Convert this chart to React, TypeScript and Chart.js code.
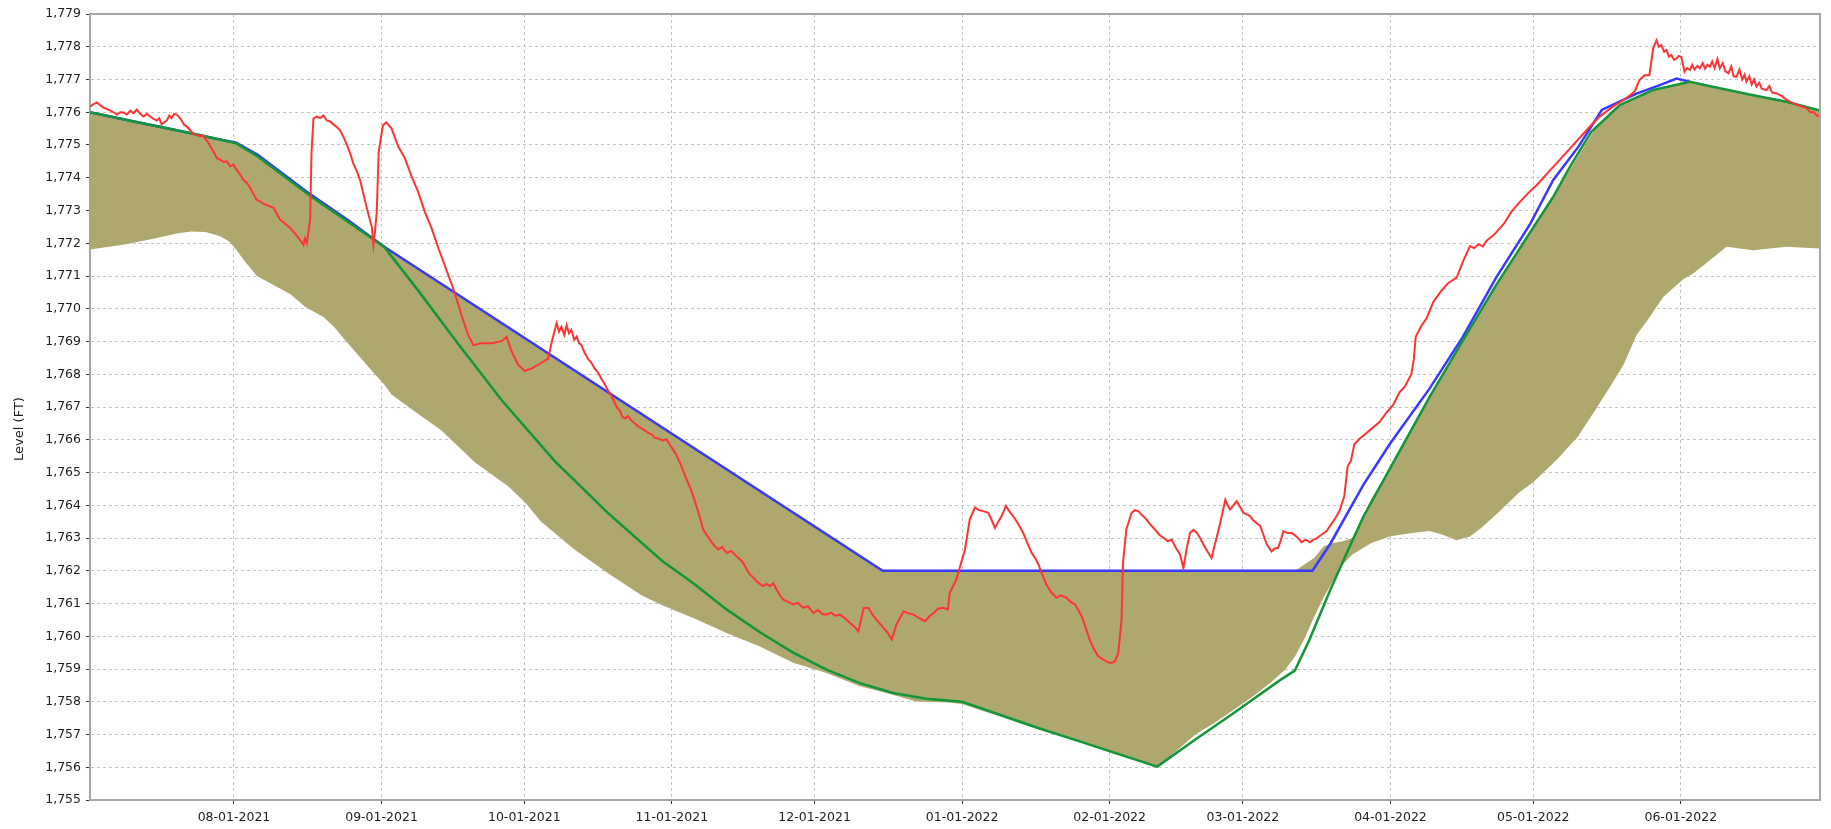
import React, { useEffect, useRef } from "react";
import { Chart, registerables } from "chart.js";

Chart.register(...registerables);

// x values are days counted from 2021-07-01
const xMin = 0.75;
const xMax = 364.25;
const monthTickDays = [31, 62, 92, 123, 153, 184, 215, 243, 274, 304, 335];
const monthTickLabels = [
  "08-01-2021", "09-01-2021", "10-01-2021", "11-01-2021", "12-01-2021",
  "01-01-2022", "02-01-2022", "03-01-2022", "04-01-2022", "05-01-2022", "06-01-2022",
];
const yTickValues = [
  1755, 1756, 1757, 1758, 1759, 1760, 1761, 1762, 1763, 1764, 1765, 1766,
  1767, 1768, 1769, 1770, 1771, 1772, 1773, 1774, 1775, 1776, 1777, 1778, 1779,
];
const yAxisTitle = "Level (FT)";

// [day, band bottom, band top]
const bandSeries: [number, number, number][] = [
  [0.75, 1771.81, 1776.0], [4, 1771.88, 1775.9], [8, 1771.96, 1775.78], [12, 1772.08, 1775.66],
  [15, 1772.17, 1775.57], [19, 1772.3, 1775.45], [22, 1772.36, 1775.36], [25, 1772.34, 1775.28],
  [28, 1772.22, 1775.17], [30, 1772.05, 1775.12], [31.5, 1771.8, 1775.06], [33, 1771.5, 1774.95],
  [35.8, 1771.0, 1774.68], [39, 1770.75, 1774.33], [42.8, 1770.45, 1773.92], [46, 1770.05, 1773.55],
  [49.8, 1769.75, 1773.2], [52, 1769.45, 1772.98], [54, 1769.1, 1772.78], [57, 1768.6, 1772.45],
  [60, 1768.1, 1772.15], [62.5, 1767.7, 1771.9], [64.1, 1767.38, 1771.75], [67.6, 1767.01, 1771.42],
  [74.6, 1766.28, 1770.76], [81.6, 1765.31, 1770.1], [88.6, 1764.58, 1769.43], [92.1, 1764.1, 1769.1],
  [95.6, 1763.49, 1768.77], [102.6, 1762.64, 1768.11], [109.6, 1761.92, 1767.45], [116.6, 1761.25, 1766.79],
  [121, 1760.95, 1766.37], [127.5, 1760.56, 1765.76], [134.5, 1760.1, 1765.1], [141.5, 1759.69, 1764.44],
  [148.5, 1759.19, 1763.78], [155.5, 1758.88, 1763.12], [162.5, 1758.47, 1762.45], [167.3, 1758.3, 1762.0],
  [174.4, 1758.01, 1762.0], [181, 1757.98, 1762.0], [184, 1757.93, 1762.0], [192, 1757.55, 1762.0],
  [200, 1757.15, 1762.0], [208, 1756.8, 1762.0], [215, 1756.45, 1762.0], [220, 1756.22, 1762.0],
  [225, 1755.98, 1762.0], [229, 1756.5, 1762.0], [233, 1757.0, 1762.0], [237, 1757.35, 1762.0],
  [241, 1757.75, 1762.0], [245, 1758.15, 1762.0], [249, 1758.6, 1762.0], [252, 1759.0, 1762.0],
  [254, 1759.4, 1762.0], [256, 1759.95, 1762.2], [258, 1760.6, 1762.4], [260, 1761.2, 1762.75],
  [262, 1761.7, 1762.85], [264, 1762.2, 1762.9], [266, 1762.5, 1763.0], [270, 1762.85, 1764.2],
  [274, 1763.05, 1765.15], [279.4, 1763.17, 1766.6], [282.2, 1763.21, 1767.3], [285, 1763.1, 1768.0],
  [287.8, 1762.93, 1768.7], [290.6, 1763.04, 1769.37], [293, 1763.3, 1769.95], [296.2, 1763.72, 1770.72],
  [301.1, 1764.4, 1771.83], [304, 1764.7, 1772.5], [309, 1765.4, 1773.6], [313.4, 1766.1, 1774.65],
  [317, 1766.9, 1775.5], [320.7, 1767.75, 1776.05], [323, 1768.3, 1776.28], [325.7, 1769.2, 1776.47],
  [328, 1769.65, 1776.62], [331.3, 1770.36, 1776.77], [335.5, 1770.9, 1776.9], [337.6, 1771.08, 1776.92],
  [340.4, 1771.4, 1776.83], [344.6, 1771.89, 1776.69], [350.2, 1771.79, 1776.52], [357.2, 1771.89, 1776.32],
  [364.25, 1771.84, 1776.05],
];

// [day, level]
const blueSeries: [number, number][] = [
  [0.75, 1776.0], [10, 1775.72], [20, 1775.42], [28, 1775.17], [31.5, 1775.07], [36, 1774.7],
  [47, 1773.5], [55, 1772.7], [62.5, 1771.9], [167.3, 1762.0], [257.6, 1762.0], [261.3, 1762.81],
  [268.3, 1764.62], [274, 1765.9], [282.2, 1767.56], [289.2, 1769.14], [296.2, 1770.95],
  [303.2, 1772.55], [308.2, 1773.93], [313.5, 1774.95], [318.4, 1776.07], [325.7, 1776.57],
  [330.6, 1776.83], [334.1, 1777.03], [336.9, 1776.93],
];

const greenSeries: [number, number][] = [
  [0.75, 1776.0], [10, 1775.72], [20, 1775.42], [28, 1775.17], [31.5, 1775.05], [36, 1774.65],
  [47, 1773.45], [55, 1772.65], [62.5, 1771.9], [70, 1770.5], [78, 1768.95], [87.3, 1767.2],
  [98.4, 1765.35], [109.6, 1763.76], [121, 1762.3], [127.5, 1761.62], [134.5, 1760.82],
  [141.5, 1760.12], [148.5, 1759.5], [155.5, 1758.98], [162.5, 1758.57], [169.5, 1758.27],
  [176.5, 1758.09], [184, 1758.0], [200, 1757.2], [210, 1756.73], [225, 1756.02], [233, 1756.85],
  [241, 1757.65], [250.8, 1758.66], [253.9, 1758.95], [257, 1759.9], [261.3, 1761.4],
  [265, 1762.6], [268.3, 1763.65], [274, 1765.15], [282.2, 1767.3], [289.2, 1769.03],
  [296.2, 1770.72], [303.2, 1772.3], [308.2, 1773.42], [311.7, 1774.33], [316.2, 1775.4],
  [322.2, 1776.22], [329.2, 1776.68], [336.9, 1776.93], [343.2, 1776.73], [350.2, 1776.52],
  [357.2, 1776.32], [364.25, 1776.05],
];

const redSeries: [number, number][] = [
  [0.75, 1776.17], [1.5, 1776.25], [2.2, 1776.3], [3.0, 1776.2], [3.6, 1776.14], [4.3, 1776.1],
  [5.0, 1776.05], [5.7, 1776.0], [6.4, 1775.93], [7.1, 1776.0], [7.8, 1775.99], [8.5, 1775.93],
  [9.2, 1776.05], [9.9, 1775.97], [10.6, 1776.08], [11.3, 1775.95], [12.0, 1775.87], [12.7, 1775.95],
  [13.4, 1775.87], [14.1, 1775.8], [14.8, 1775.75], [15.3, 1775.82], [15.8, 1775.63], [16.4, 1775.7],
  [16.9, 1775.75], [17.4, 1775.9], [17.9, 1775.82], [18.4, 1775.95], [18.96, 1775.93], [19.5, 1775.85],
  [20.0, 1775.75], [20.5, 1775.62], [21.1, 1775.57], [21.8, 1775.45], [22.5, 1775.33], [23.2, 1775.3],
  [23.9, 1775.26], [24.4, 1775.3], [24.9, 1775.2], [25.5, 1775.1], [26.0, 1774.96], [26.7, 1774.8],
  [27.4, 1774.6], [28.1, 1774.55], [28.8, 1774.48], [29.5, 1774.5], [30.2, 1774.35], [30.9, 1774.4],
  [31.6, 1774.23], [32.3, 1774.1], [33.0, 1773.93], [33.7, 1773.85], [34.4, 1773.69], [35.1, 1773.5],
  [35.8, 1773.32], [36.5, 1773.28], [37.2, 1773.2], [38.2, 1773.15], [39.3, 1773.08], [40.0, 1772.9],
  [40.7, 1772.72], [41.7, 1772.6], [42.8, 1772.47], [43.5, 1772.35], [44.2, 1772.23], [44.9, 1772.1],
  [45.6, 1771.95], [45.9, 1772.15], [46.3, 1772.0], [46.7, 1772.4], [47.0, 1772.72], [47.3, 1774.78],
  [47.7, 1775.81], [48.4, 1775.87], [49.1, 1775.82], [49.8, 1775.9], [50.5, 1775.75], [51.2, 1775.72],
  [51.9, 1775.63], [52.6, 1775.55], [53.3, 1775.45], [54.0, 1775.25], [54.7, 1775.02], [55.4, 1774.75],
  [56.1, 1774.42], [56.8, 1774.2], [57.5, 1773.93], [58.2, 1773.5], [58.9, 1773.08], [59.5, 1772.75],
  [60.0, 1772.47], [60.3, 1771.95], [60.6, 1772.3], [61.0, 1772.96], [61.4, 1774.78], [62.3, 1775.6],
  [63.0, 1775.69], [64.1, 1775.51], [65.5, 1774.96], [66.9, 1774.6], [68.3, 1774.05], [69.7, 1773.57],
  [71.1, 1772.96], [72.5, 1772.47], [73.9, 1771.87], [75.3, 1771.32], [76.7, 1770.77], [77.8, 1770.29],
  [78.8, 1769.8], [80.2, 1769.2], [81.3, 1768.89], [83.0, 1768.95], [85.1, 1768.95], [87.2, 1769.01],
  [88.3, 1769.14], [89.3, 1768.71], [90.7, 1768.29], [92.1, 1768.1], [93.5, 1768.17], [94.9, 1768.29],
  [97.0, 1768.47], [97.8, 1769.01], [98.8, 1769.56], [99.3, 1769.3], [99.8, 1769.45], [100.4, 1769.2],
  [100.9, 1769.5], [101.4, 1769.25], [101.9, 1769.35], [102.5, 1769.05], [103.0, 1769.15],
  [103.5, 1768.95], [104.0, 1768.89], [104.7, 1768.65], [105.4, 1768.47], [106.1, 1768.35],
  [106.8, 1768.17], [107.5, 1768.05], [108.2, 1767.86], [108.9, 1767.7], [109.6, 1767.5],
  [110.3, 1767.35], [111.0, 1767.13], [111.6, 1766.95], [112.1, 1766.89], [112.6, 1766.7],
  [113.2, 1766.65], [113.8, 1766.72], [114.5, 1766.59], [115.2, 1766.5], [115.9, 1766.41],
  [116.6, 1766.35], [117.4, 1766.28], [118.1, 1766.2], [118.8, 1766.16], [119.5, 1766.05],
  [120.2, 1766.04], [121.0, 1765.98], [121.9, 1766.01], [122.8, 1765.8], [123.7, 1765.6],
  [124.7, 1765.3], [125.4, 1765.05], [126.1, 1764.79], [126.8, 1764.55], [127.5, 1764.28],
  [128.6, 1763.77], [129.6, 1763.26], [130.3, 1763.1], [131.0, 1762.95], [132.0, 1762.75],
  [132.8, 1762.65], [133.6, 1762.72], [134.5, 1762.55], [135.5, 1762.6], [136.6, 1762.44],
  [137.3, 1762.35], [138.0, 1762.24], [138.7, 1762.05], [139.4, 1761.88], [140.1, 1761.8],
  [140.8, 1761.68], [141.5, 1761.6], [142.2, 1761.53], [142.9, 1761.6], [143.6, 1761.53],
  [144.3, 1761.62], [145.0, 1761.43], [145.7, 1761.25], [146.4, 1761.12], [147.4, 1761.05],
  [148.5, 1760.97], [149.5, 1761.02], [150.6, 1760.87], [151.6, 1760.92], [152.7, 1760.71],
  [153.7, 1760.8], [154.6, 1760.68], [155.5, 1760.66], [156.5, 1760.72], [157.4, 1760.62],
  [158.3, 1760.66], [159.4, 1760.55], [160.4, 1760.41], [161.3, 1760.3], [162.2, 1760.15],
  [163.3, 1760.86], [164.3, 1760.87], [165.2, 1760.65], [166.0, 1760.51], [167.5, 1760.25],
  [168.4, 1760.1], [169.2, 1759.9], [170.2, 1760.36], [171.7, 1760.76], [172.7, 1760.7],
  [173.8, 1760.66], [175.0, 1760.55], [176.2, 1760.46], [177.1, 1760.6], [178.0, 1760.71],
  [179.0, 1760.85], [180.1, 1760.87], [181.0, 1760.82], [181.4, 1761.33], [182.8, 1761.74],
  [183.7, 1762.2], [184.6, 1762.65], [185.6, 1763.57], [186.7, 1763.93], [187.5, 1763.85],
  [188.4, 1763.82], [189.5, 1763.77], [190.2, 1763.55], [190.9, 1763.31], [191.6, 1763.5],
  [192.3, 1763.67], [193.2, 1763.98], [194.0, 1763.8], [194.7, 1763.67], [195.7, 1763.45],
  [196.8, 1763.16], [197.7, 1762.85], [198.6, 1762.55], [199.3, 1762.4], [200.0, 1762.2],
  [200.8, 1761.9], [201.7, 1761.58], [202.7, 1761.35], [203.8, 1761.18], [204.8, 1761.25],
  [205.9, 1761.18], [206.8, 1761.05], [207.7, 1760.97], [208.4, 1760.8], [209.1, 1760.61],
  [210.0, 1760.25], [210.8, 1759.9], [211.7, 1759.6], [212.6, 1759.39], [213.5, 1759.3],
  [214.3, 1759.23], [215.2, 1759.18], [216.1, 1759.23], [216.8, 1759.49], [217.5, 1760.5],
  [217.8, 1762.24], [218.5, 1763.26], [219.6, 1763.77], [220.3, 1763.85], [221.0, 1763.82],
  [221.8, 1763.7], [222.7, 1763.57], [223.6, 1763.4], [224.5, 1763.26], [225.4, 1763.1],
  [226.3, 1763.01], [227.2, 1762.9], [228.0, 1762.95], [228.9, 1762.7], [229.8, 1762.49],
  [230.5, 1762.08], [231.2, 1762.7], [231.9, 1763.16], [232.6, 1763.25], [233.3, 1763.16],
  [234.0, 1763.0], [234.7, 1762.8], [235.5, 1762.6], [236.4, 1762.39], [237.1, 1762.8],
  [237.9, 1763.26], [238.6, 1763.7], [239.3, 1764.17], [239.8, 1764.0], [240.3, 1763.87],
  [241.0, 1764.0], [241.7, 1764.12], [242.4, 1763.95], [243.1, 1763.77], [243.8, 1763.72],
  [244.5, 1763.67], [245.1, 1763.55], [245.9, 1763.45], [246.6, 1763.38], [247.3, 1763.1],
  [248.0, 1762.81], [249.0, 1762.59], [249.7, 1762.68], [250.4, 1762.7], [251.0, 1762.95],
  [251.5, 1763.21], [252.4, 1763.15], [253.3, 1763.15], [254.3, 1763.04], [255.3, 1762.87],
  [256.2, 1762.95], [257.1, 1762.87], [257.8, 1762.95], [258.4, 1762.98], [259.5, 1763.1],
  [260.6, 1763.21], [261.2, 1763.35], [261.9, 1763.49], [262.6, 1763.65], [263.3, 1763.83],
  [264.3, 1764.28], [265.0, 1765.19], [265.7, 1765.36], [266.4, 1765.86], [267.5, 1766.03],
  [268.9, 1766.2], [270.3, 1766.37], [271.7, 1766.54], [273.1, 1766.82], [274.5, 1767.05],
  [275.9, 1767.45], [277.0, 1767.62], [278.4, 1768.01], [278.9, 1768.46], [279.3, 1769.14],
  [280.5, 1769.48], [281.6, 1769.71], [283.0, 1770.21], [284.7, 1770.55], [286.1, 1770.78],
  [287.9, 1770.95], [289.3, 1771.46], [290.7, 1771.91], [291.6, 1771.85], [292.5, 1771.97],
  [293.4, 1771.9], [294.2, 1772.08], [295.7, 1772.25], [297.8, 1772.59], [299.5, 1772.98],
  [301.3, 1773.28], [303.4, 1773.6], [304.7, 1773.77], [308.2, 1774.33], [311.7, 1774.89],
  [315.2, 1775.45], [316.2, 1775.61], [317.9, 1775.86], [320.7, 1776.17], [323.5, 1776.42],
  [325.3, 1776.63], [326.3, 1776.98], [327.4, 1777.13], [328.4, 1777.13], [329.2, 1777.95],
  [329.9, 1778.2], [330.4, 1778.0], [330.9, 1778.05], [331.5, 1777.85], [332.0, 1777.9],
  [332.5, 1777.7], [333.0, 1777.75], [333.6, 1777.6], [334.1, 1777.64], [334.6, 1777.72],
  [335.1, 1777.69], [335.8, 1777.24], [336.3, 1777.35], [336.9, 1777.29], [337.4, 1777.45],
  [337.9, 1777.3], [338.5, 1777.42], [339.0, 1777.34], [339.6, 1777.5], [340.1, 1777.33],
  [340.6, 1777.45], [341.1, 1777.39], [341.6, 1777.55], [342.1, 1777.35], [342.7, 1777.62],
  [343.2, 1777.34], [343.8, 1777.5], [344.4, 1777.25], [345.0, 1777.19], [345.6, 1777.4],
  [346.1, 1777.1], [346.7, 1777.08], [347.3, 1777.3], [347.9, 1777.0], [348.4, 1777.15],
  [348.8, 1776.93], [349.4, 1777.1], [349.9, 1776.85], [350.4, 1777.0], [350.9, 1776.78],
  [351.5, 1776.9], [352.0, 1776.72], [353.0, 1776.68], [353.6, 1776.8], [354.2, 1776.6],
  [355.2, 1776.57], [356.2, 1776.5], [357.3, 1776.37], [358.3, 1776.3], [359.4, 1776.22],
  [360.4, 1776.18], [361.5, 1776.12], [362.2, 1776.0], [362.9, 1776.01], [363.6, 1775.9],
  [364.25, 1775.88],
];

const FONT = '"DejaVu Sans", Verdana, sans-serif';
const TEXT = "#1e1e1e";

export default function App() {
  const canvasRef = useRef<HTMLCanvasElement | null>(null);

  useEffect(() => {
    const canvas = canvasRef.current;
    if (!canvas) return;

    const framePlugin = {
      id: "framePlugin",
      afterDraw(chart: any) {
        const { ctx, chartArea } = chart;
        ctx.save();
        ctx.strokeStyle = "#a6a6a6";
        ctx.lineWidth = 2;
        ctx.beginPath();
        ctx.moveTo(chartArea.left, chartArea.top);
        ctx.lineTo(chartArea.right, chartArea.top);
        ctx.lineTo(chartArea.right, chartArea.bottom);
        ctx.stroke();
        ctx.fillStyle = TEXT;
        ctx.font = `13px ${FONT}`;
        ctx.textAlign = "center";
        ctx.textBaseline = "middle";
        ctx.translate(20, 429);
        ctx.rotate(-Math.PI / 2);
        ctx.fillText(yAxisTitle, 0, 0);
        ctx.restore();
      },
    };

    const toPts = (arr: [number, number][]) => arr.map(([x, y]) => ({ x, y }));

    const chart = new Chart(canvas, {
      type: "line",
      data: {
        datasets: [
          {
            label: "band bottom",
            data: bandSeries.map(([x, lo]) => ({ x, y: lo })),
            borderWidth: 0,
            borderColor: "rgba(0,0,0,0)",
            pointRadius: 0,
            fill: false,
            order: 4,
          },
          {
            label: "band top",
            data: bandSeries.map(([x, , hi]) => ({ x, y: hi })),
            borderWidth: 0,
            borderColor: "rgba(0,0,0,0)",
            backgroundColor: "#aea86f",
            pointRadius: 0,
            fill: "-1",
            order: 3,
          },
          {
            label: "blue",
            data: toPts(blueSeries),
            borderColor: "#3838ff",
            borderWidth: 2.5,
            pointRadius: 0,
            fill: false,
            order: 2,
          },
          {
            label: "green",
            data: toPts(greenSeries),
            borderColor: "#12963a",
            borderWidth: 2.5,
            pointRadius: 0,
            fill: false,
            order: 1,
          },
          {
            label: "red",
            data: toPts(redSeries),
            borderColor: "#ff3333",
            borderWidth: 2,
            pointRadius: 0,
            fill: false,
            order: 0,
          },
        ],
      },
      options: {
        animation: false,
        responsive: true,
        maintainAspectRatio: false,
        events: [],
        layout: { autoPadding: false, padding: { left: 0, top: 14, right: 11, bottom: 0 } },
        elements: { line: { tension: 0 } },
        plugins: {
          legend: { display: false },
          tooltip: { enabled: false },
          title: { display: false },
        },
        scales: {
          x: {
            type: "linear",
            min: xMin,
            max: xMax,
            afterBuildTicks: (scale: any) => {
              scale.ticks = monthTickDays.map((v) => ({ value: v }));
            },
            afterFit: (scale: any) => {
              scale.height = 29;
            },
            ticks: {
              autoSkip: false,
              maxRotation: 0,
              minRotation: 0,
              padding: 6,
              color: TEXT,
              font: { family: FONT, size: 12.5 },
              callback: (v: any) => {
                const i = monthTickDays.indexOf(Number(v));
                return i >= 0 ? monthTickLabels[i] : "";
              },
            },
            grid: {
              color: "#c4c4c4",
              lineWidth: 1,
              tickColor: "#333333",
              tickLength: 4,
              tickWidth: 1,
            },
            border: { display: true, color: "#a6a6a6", width: 2, dash: [3, 3] },
          },
          y: {
            type: "linear",
            min: 1755,
            max: 1779,
            afterBuildTicks: (scale: any) => {
              scale.ticks = yTickValues.map((v) => ({ value: v }));
            },
            afterFit: (scale: any) => {
              scale.width = 90;
            },
            ticks: {
              padding: 5,
              color: TEXT,
              font: { family: FONT, size: 12.5 },
              callback: (v: any) => Number(v).toLocaleString("en-US"),
            },
            grid: {
              color: "#c4c4c4",
              lineWidth: 1,
              tickColor: "#333333",
              tickLength: 4,
              tickWidth: 1,
            },
            border: { display: true, color: "#a6a6a6", width: 2, dash: [3, 3] },
          },
        },
      } as any,
      plugins: [framePlugin],
    });

    return () => {
      chart.destroy();
    };
  }, []);

  return (
    <div
      style={{
        position: "fixed",
        left: 0,
        top: 0,
        width: "1831px",
        height: "829px",
        background: "#ffffff",
      }}
    >
      <canvas ref={canvasRef} />
    </div>
  );
}
